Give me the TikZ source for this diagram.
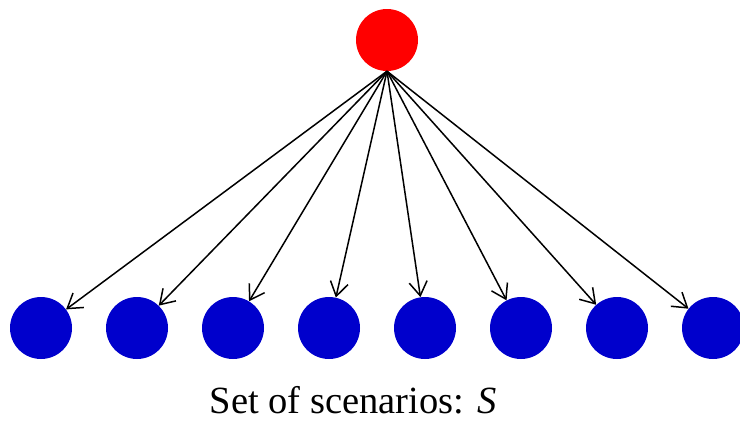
\documentclass[tikz,border=0pt]{standalone}
\usepackage{fontspec}
\setmainfont{Liberation Serif}
\usetikzlibrary{arrows.meta}

\definecolor{rootred}{RGB}{255,0,0}
\definecolor{scenblue}{RGB}{0,0,204}

\begin{document}
\begin{tikzpicture}[x=1pt, y=-1pt,
    rootnode/.style={circle, fill=rootred, minimum size=62pt, inner sep=0pt},
    scennode/.style={circle, fill=scenblue, minimum size=62pt, inner sep=0pt},
    branch/.style={-{Straight Barb[length=14pt, width=18pt]}, line width=1.5pt}]
    \useasboundingbox (0,0) rectangle (740,431);

    % Root node
    \node[rootnode] (root) at (387, 40) {};

    % Scenario nodes with their branches
    \foreach \i in {0,...,7} {
        \node[scennode] (s\i) at (41+96*\i, 328) {};
        \draw[branch] (root.south) -- (s\i);
    }

    % Label
    \node[font=\fontsize{38.5}{44}\selectfont] (label) at (353, 400) {Set of scenarios: \textit{S}};
\end{tikzpicture}
\end{document}
